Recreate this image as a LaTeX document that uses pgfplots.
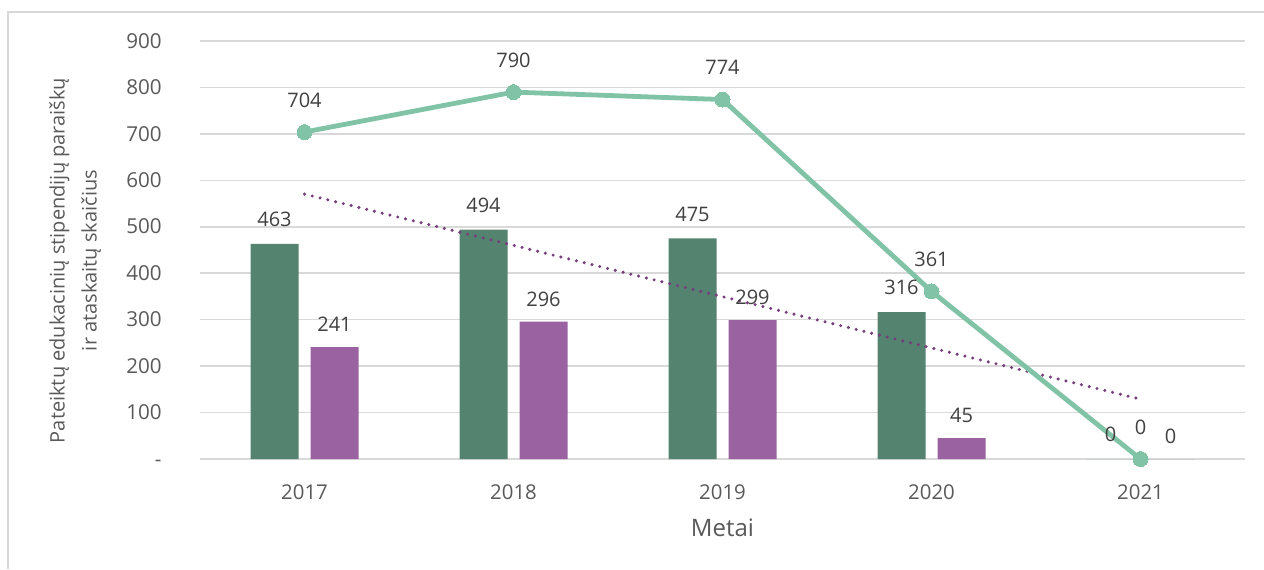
\documentclass[border=0pt]{standalone}
\usepackage{pgfplots}
\pgfplotsset{compat=1.18}
\usepackage{fontspec}
\setmainfont{Open Sans}
\definecolor{barG}{HTML}{548470}
\definecolor{barP}{HTML}{9A62A0}
\definecolor{lineG}{HTML}{80C3A6}
\definecolor{trendP}{HTML}{773D7C}
\definecolor{gridc}{HTML}{D9D9D9}
\definecolor{tickc}{HTML}{595959}
\definecolor{labc}{HTML}{404040}
\begin{document}
\begin{tikzpicture}
\useasboundingbox (0,0) rectangle (632pt,284.5pt);
\draw[gridc, line width=0.75pt] (4pt,0) -- (4pt,278.5pt) -- (632pt,278.5pt);
\begin{axis}[
  at={(100pt,55pt)}, anchor=south west,
  scale only axis, width=522.5pt, height=209pt,
  xmin=-0.5, xmax=4.5, ymin=0, ymax=900,
  clip=false,
  /pgf/number format/assume math mode=true,
  xtick={0,1,2,3,4}, xticklabels={2017,2018,2019,2020,2021},
  ytick={0,100,...,900}, yticklabels={-,100,200,300,400,500,600,700,800,900},
  axis line style={draw=none},
  major tick length=0pt,
  ymajorgrids, grid style={gridc, line width=0.75pt},
  yticklabel style={font=\fontsize{10.3}{12}\selectfont, text=tickc, anchor=east, inner sep=0pt, xshift=-19pt, text height=7.2pt, text depth=0pt},
  xticklabel style={font=\fontsize{10.2}{12}\selectfont, text=tickc, anchor=north, inner sep=0pt, yshift=-13pt, text height=7.2pt, text depth=0pt},
  xlabel={Metai},
  xlabel style={at={(axis description cs:0.5,0)}, anchor=center, yshift=-34.5pt, font=\fontsize{12}{14}\selectfont, text=tickc, inner sep=0pt},
  ylabel={Pateiktų edukacinių stipendijų paraiškų\\ir ataskaitų skaičius},
  ylabel style={at={(axis description cs:-0.1196,0.475)}, anchor=center, align=center, font=\fontsize{10}{16}\selectfont, text=tickc, inner sep=0pt},
]
\addplot[ybar, bar width=24pt, bar shift=-15pt, fill=barG, draw=none,
  nodes near coords,
  every node near coord/.append style={font=\fontsize{10}{12}\selectfont, text=labc, inner sep=0pt, text depth=0pt, yshift=8.45pt, xshift=-15pt}]
  coordinates {(0,463) (1,494) (2,475) (3,316) (4,0)};
\addplot[ybar, bar width=24pt, bar shift=15pt, fill=barP, draw=none,
  nodes near coords,
  every node near coord/.append style={font=\fontsize{10}{12}\selectfont, text=labc, inner sep=0pt, text depth=0pt, yshift=7.5pt, xshift=15pt}]
  coordinates {(0,241) (1,296) (2,299) (3,45) (4,0)};
\addplot[trendP, line width=1.7pt, dash pattern=on 0pt off 4pt, line cap=round]
  coordinates {(0,570.4) (4,128.8)};
\addplot[lineG, line width=2.4pt, mark=*, mark size=3.75pt,
  mark options={fill=lineG, draw=lineG, line width=0pt},
  nodes near coords,
  every node near coord/.append style={font=\fontsize{10}{12}\selectfont, text=labc, inner sep=0pt, text depth=0pt, yshift=12.45pt}]
  coordinates {(0,704) (1,790) (2,774) (3,361) (4,0)};
\end{axis}
\end{tikzpicture}
\end{document}
